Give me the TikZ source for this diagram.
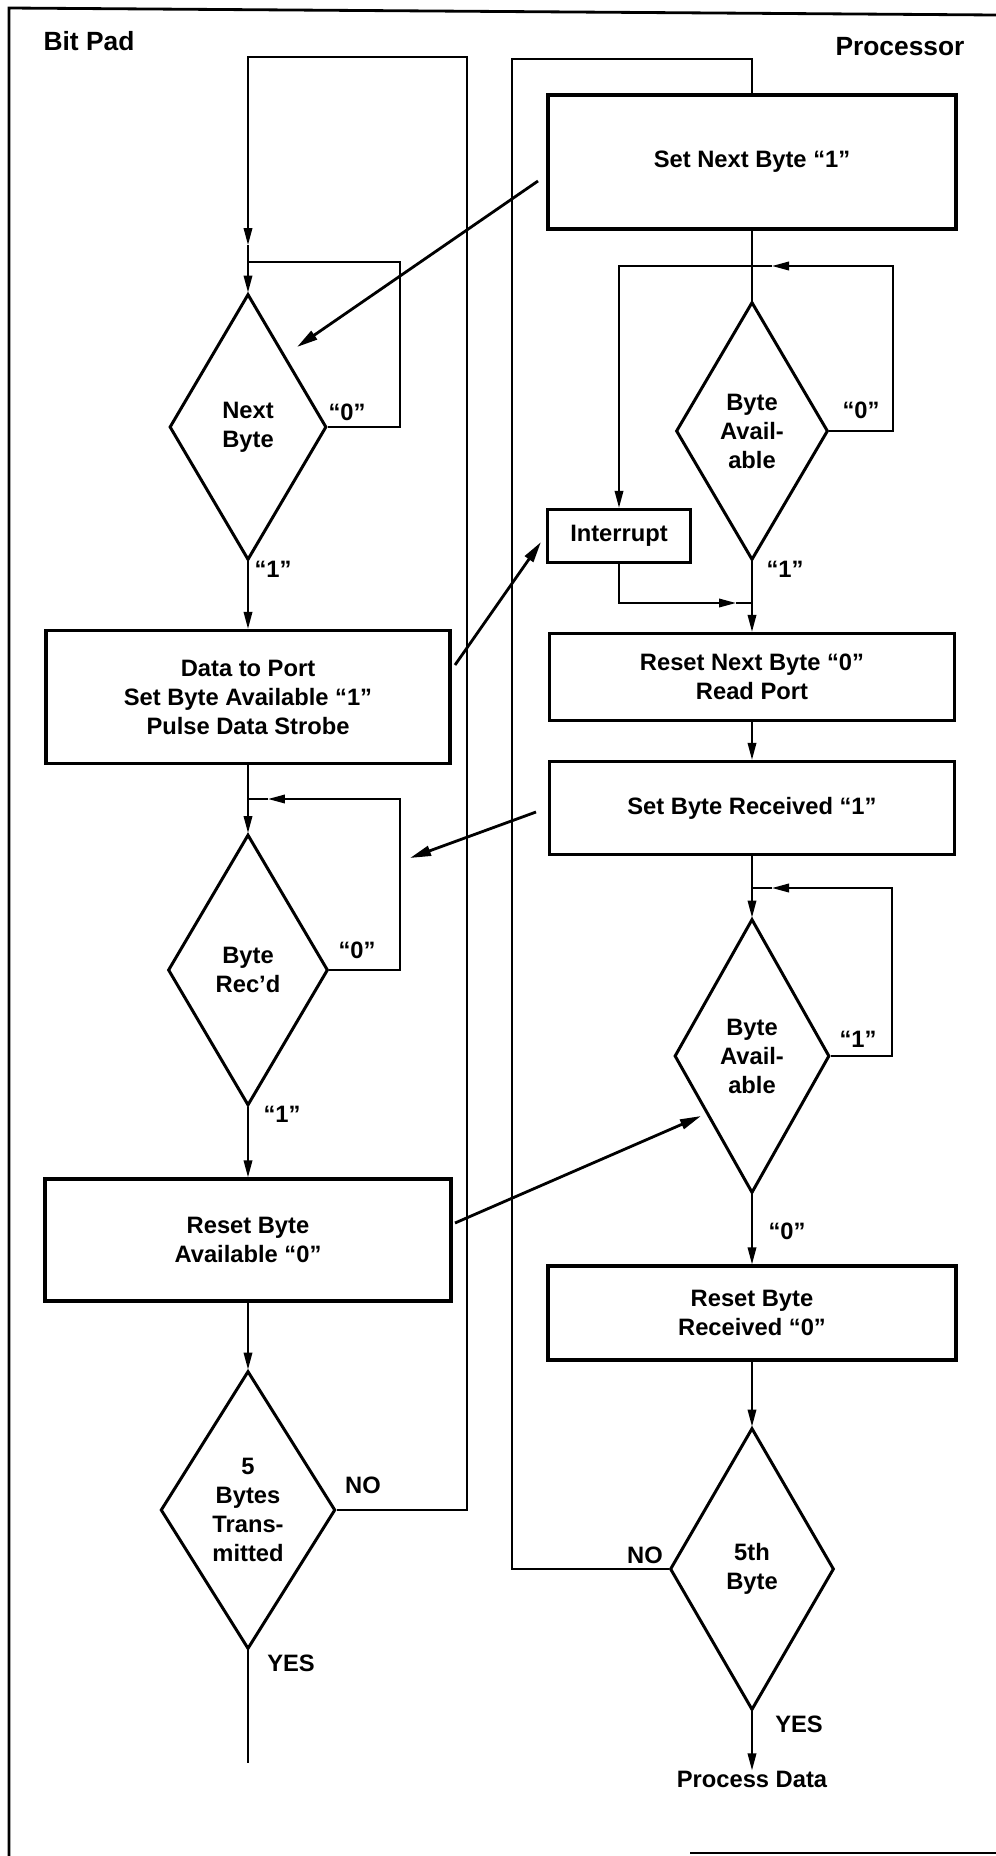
\documentclass[tikz,border=0pt]{standalone}
\usepackage{fontspec}
\setmainfont{Liberation Sans}
\usetikzlibrary{shapes.geometric,arrows.meta}
\newcommand\flowfont{\fontsize{13.5}{16.5}\selectfont\bfseries}
\newcommand\titlefont{\fontsize{15}{17}\selectfont\bfseries}
\begin{document}
\begin{tikzpicture}[x=0.02cm,y=-0.02cm,
  box/.style={draw,line width=1.9pt,inner sep=0pt,align=center,font=\flowfont},
  decision/.style={diamond,draw,line width=1.7pt,inner sep=0pt,align=center,font=\flowfont},
  line/.style={line width=1.1pt},
  flow/.style={line width=1.1pt,-{Triangle[width=0.17cm,length=0.34cm]}},
  signal/.style={line width=1.6pt,-{Triangle[width=0.2cm,length=0.42cm]}},
  lbl/.style={font=\flowfont,inner sep=0pt}]
\useasboundingbox (0,0) rectangle (996,1856);
% frame
\draw[line width=1.6pt] (996,15) -- (9,8) -- (9,1856);
\draw[line width=1.6pt] (690,1853) -- (996,1853);
\node[lbl,font=\titlefont] (bitpad) at (89,41) {Bit Pad};
\node[lbl,font=\titlefont] (proc) at (900,47) {Processor};

% Bit Pad side
\node[decision,minimum width=3.14cm,minimum height=5.32cm] (nb) at (248,427) {Next\\Byte};
\node[box,minimum width=8.08cm,minimum height=2.66cm] (dp) at (248,697) {Data to Port\\Set Byte Available “1”\\Pulse Data Strobe};
\node[decision,minimum width=3.2cm,minimum height=5.42cm] (br) at (248,970) {Byte\\Rec’d};
\node[box,minimum width=8.12cm,minimum height=2.44cm] (ra) at (248,1240) {Reset Byte\\Available “0”};
\node[decision,minimum width=3.26cm,minimum height=5.56cm] (tx) at (248,1510) {5\\Bytes\\Trans-\\mitted};

% Processor side
\node[box,minimum width=8.16cm,minimum height=2.68cm] (sn) at (752,162) {Set Next Byte “1”};
\node[decision,minimum width=3.04cm,minimum height=5.16cm] (ba1) at (752,431) {Byte\\Avail-\\able};
\node[box,minimum width=2.86cm,minimum height=1.06cm] (int) at (619,536) {Interrupt};
\node[box,minimum width=8.1cm,minimum height=1.74cm] (rn) at (752,677) {Reset Next Byte “0”\\Read Port};
\node[box,minimum width=8.1cm,minimum height=1.86cm] (sr) at (752,808) {Set Byte Received “1”};
\node[decision,minimum width=3.1cm,minimum height=5.48cm] (ba2) at (752,1056) {Byte\\Avail-\\able};
\node[box,minimum width=8.16cm,minimum height=1.88cm] (rr) at (752,1313) {Reset Byte\\Received “0”};
\node[decision,minimum width=3.28cm,minimum height=5.64cm] (fb) at (752,1569) {5th\\Byte};
\node[lbl] (pd) at (752,1779) {Process Data};

% labels
\node[lbl] (nb0) at (347,412) {“0”};
\node[lbl] (nb1) at (273,569) {“1”};
\node[lbl] (br0) at (357,950) {“0”};
\node[lbl] (br1) at (282,1114) {“1”};
\node[lbl] (txno) at (363,1485) {NO};
\node[lbl] (txyes) at (291,1663) {YES};
\node[lbl] (ba10) at (861,410) {“0”};
\node[lbl] (ba11) at (785,569) {“1”};
\node[lbl] (ba21) at (858,1039) {“1”};
\node[lbl] (ba20) at (787,1231) {“0”};
\node[lbl] (fbno) at (645,1555) {NO};
\node[lbl] (fbyes) at (799,1724) {YES};

% Bit Pad flow
\coordinate (j1) at (248,262);
\coordinate (a1) at (248,245);
\coordinate (j2) at (248,799);
\coordinate (a2) at (268,799);
\coordinate (endL) at (248,1763);
\draw[flow] (tx.east) -| (467,57) -| (a1);
\draw[line] (a1) -- (j1);
\draw[flow] (j1) -- (nb.north);
\draw[line] (nb.east) -| (400,262) -- (j1);
\draw[flow] (nb.south) -- (dp.north);
\draw[flow] (dp.south) -- (br.north);
\draw[flow] (br.east) -| (400,799) -- (a2);
\draw[line] (a2) -- (j2);
\draw[flow] (br.south) -- (ra.north);
\draw[flow] (ra.south) -- (tx.north);
\draw[line] (tx.south) -- (endL);

% Processor flow
\coordinate (j3) at (752,266);
\coordinate (a3) at (772,266);
\coordinate (j4) at (752,603);
\coordinate (a4) at (736,603);
\coordinate (j5) at (752,888);
\coordinate (a5) at (772,888);
\draw[line] (fb.west) -| (512,59) -| (sn.north);
\draw[line] (sn.south) -- (ba1.north);
\draw[flow] (ba1.east) -| (893,266) -- (a3);
\draw[line] (a3) -- (j3);
\draw[flow] (j3) -| (int.north);
\draw[flow] (int.south) |- (a4);
\draw[line] (a4) -- (j4);
\draw[flow] (ba1.south) -- (rn.north);
\draw[flow] (rn.south) -- (sr.north);
\draw[flow] (sr.south) -- (ba2.north);
\draw[flow] (ba2.east) -| (892,888) -- (a5);
\draw[line] (a5) -- (j5);
\draw[flow] (ba2.south) -- (rr.north);
\draw[flow] (rr.south) -- (fb.north);
\draw[flow] (fb.south) -- (pd.north);

% handshake signals
\coordinate (s1) at (538,181);
\coordinate (t1) at (297,347);
\coordinate (s2) at (455,665);
\coordinate (t2) at (541,542);
\coordinate (s3) at (536,812);
\coordinate (t3) at (410,858);
\coordinate (s4) at (455,1223);
\coordinate (t4) at (701,1116);
\draw[signal] (s1) -- (t1);
\draw[signal] (s2) -- (t2);
\draw[signal] (s3) -- (t3);
\draw[signal] (s4) -- (t4);
\end{tikzpicture}
\end{document}
